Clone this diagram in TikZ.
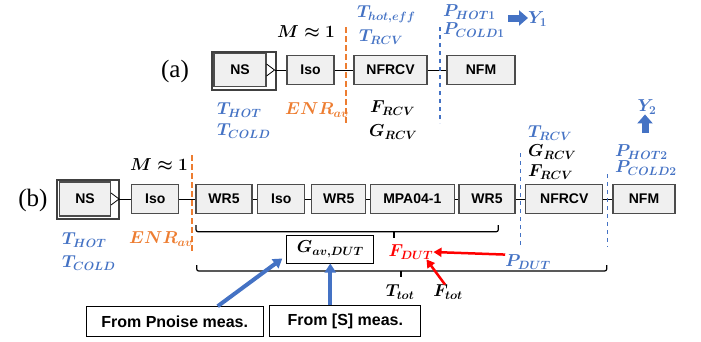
\documentclass[tikz,border=0pt]{standalone}
\usepackage{amsmath}
\usepackage{fontspec}
\setmainfont{Liberation Serif}
\setsansfont{Liberation Sans}
\usepackage{xcolor}
\usepackage{tikz}
\usetikzlibrary{calc,positioning,arrows.meta}
\DeclareMathSizes{16}{16}{12}{10}
\definecolor{tblue}{HTML}{4472C4}
\definecolor{torange}{HTML}{ED7D31}
\tikzset{
  >=Stealth,
  blk/.style={
    rectangle,
    draw=black!70, line width=1.1pt,
    fill=black!6,
    minimum width=#1,
    minimum height=29pt,
    inner sep=0pt,
    font=\sffamily\bfseries\fontsize{14}{16}\selectfont},
  outbox/.style={draw=black!75, line width=1.1pt, inner sep=0pt},
  wire/.style={draw, line width=0.9pt},
  odash/.style={draw=torange, line width=2pt, dash pattern=on 6pt off 3pt},
  bdash/.style={draw=tblue, line width=1.5pt, dash pattern=on 4pt off 4pt},
  mlbl/.style={inner sep=0pt, font=\fontsize{16}{18}\selectfont\boldmath},
  panel/.style={inner sep=0pt, font=\rmfamily\fontsize{25}{28}\selectfont},
  txtbox/.style={draw, line width=1pt, fill=white, inner sep=0pt,
    font=\sffamily\bfseries\fontsize{16}{18}\selectfont},
  brc/.style={draw, line width=1.2pt, rounded corners=2pt},
  barrow/.style={draw=tblue, line width=7pt, -{Triangle[length=9pt,width=15pt]}},
  sarrow/.style={draw=tblue, line width=4pt, -{Triangle[length=9pt,width=11pt]}},
  rarrow/.style={draw=red, line width=2.5pt, -{Triangle[length=8pt,width=9pt]}}
}

\begin{document}
\begin{tikzpicture}[x=1pt,y=-1pt]
    \useasboundingbox (0,0) rectangle (701,341);

    %%% (a)
    \node[panel] (lblA) at (175,71) {(a)};
    \node[blk=52pt, minimum height=33pt] (nsA) at (240,70) {NS};
    \node[outbox, minimum width=64pt, minimum height=38pt] (nsAo) at (244,71) {};
    \draw[line width=0.8pt] (nsA.east) ++(0,-6) -- ++(8,6) coordinate (tipA) -- ++(-8,6);
    \node[blk=47pt] (isoA) at (310.5,70) {Iso};
    \node[blk=73pt] (nfrcvA) at (390.5,70) {NFRCV};
    \node[blk=68pt] (nfmA) at (481,70) {NFM};

    \draw[wire] (tipA) -- (isoA);
    \draw[wire] (isoA) -- (nfrcvA);
    \draw[wire] (nfrcvA) -- (nfmA);

    \coordinate (OA1) at (345.5,27);
    \coordinate (OA2) at (345.5,123);
    \coordinate (BA1) at (440,27);
    \coordinate (BA2) at (440,123);
    \draw[odash] (OA1) -- (OA2);
    \draw[bdash] (BA1) -- (BA2);

    \node[mlbl] (mA) at (306,32) {$M\approx 1$};
    \node[mlbl, tblue, anchor=west] (thA) at (357,14) {$T_{hot,eff}$};
    \node[mlbl, tblue, anchor=west] (trA) at (359,37) {$T_{RCV}$};
    \node[mlbl, tblue, anchor=west] (phA) at (443,12) {$P_{HOT1}$};
    \node[mlbl, tblue, anchor=west] (pcA) at (443,30) {$P_{COLD1}$};
    \node[mlbl, tblue, anchor=west] (yA) at (528,19) {$Y_1$};
    \coordinate (yAs) at (508,18);
    \draw[barrow] (yAs) -- (yAs -| yA.west);

    \node[mlbl, tblue, anchor=west] (thotA) at (217,110) {$T_{HOT}$};
    \node[mlbl, tblue, anchor=west] (tcoldA) at (217,131) {$T_{COLD}$};
    \node[mlbl, torange, anchor=west] (enrA) at (285,110) {$ENR_{av}$};
    \node[mlbl, anchor=west] (frA) at (370,108) {$F_{RCV}$};
    \node[mlbl, anchor=west] (grA) at (369,132) {$G_{RCV}$};

    %%% (b)
    \node[panel] (lblB) at (33,200) {(b)};
    \node[blk=51pt, minimum height=34pt] (nsB) at (85,199) {NS};
    \node[outbox, minimum width=62pt, minimum height=39pt] (nsBo) at (88,199.5) {};
    \draw[line width=0.8pt] (nsB.east) ++(0,-6) -- ++(8,6) coordinate (tipB) -- ++(-8,6);
    \node[blk=47pt] (isoB1) at (155.3,199) {Iso};
    \node[blk=56pt] (wrA) at (224,199) {WR5};
    \node[blk=47pt] (isoB2) at (281.3,199) {Iso};
    \node[blk=54pt] (wrB) at (338.8,199) {WR5};
    \node[blk=84pt] (mpa) at (412.3,199) {MPA04-1};
    \node[blk=56pt] (wrC) at (487,199) {WR5};
    \node[blk=77pt] (nfrcvB) at (564.3,199) {NFRCV};
    \node[blk=62pt] (nfmB) at (644,199) {NFM};

    \draw[wire] (tipB) -- (isoB1);
    \foreach \a/\b in {isoB1/wrA, wrA/isoB2, isoB2/wrB, wrB/mpa, mpa/wrC, wrC/nfrcvB, nfrcvB/nfmB}
        \draw[wire] (\a) -- (\b);

    \coordinate (OB1) at (191.7,155);
    \coordinate (OB2) at (191.7,252);
    \coordinate (BB1) at (520.7,153);
    \coordinate (BB2) at (520.7,248);
    \coordinate (BB3) at (607.3,174);
    \coordinate (BB4) at (607.3,247);
    \draw[odash] (OB1) -- (OB2);
    \draw[bdash] (BB1) -- (BB2);
    \draw[bdash] (BB3) -- (BB4);

    \node[mlbl] (mB) at (159,165) {$M\approx 1$};
    \node[mlbl, tblue, anchor=west] (thotB) at (62,240) {$T_{HOT}$};
    \node[mlbl, tblue, anchor=west] (tcoldB) at (62,263) {$T_{COLD}$};
    \node[mlbl, torange, anchor=west] (enrB) at (129,239) {$ENR_{av}$};
    \node[mlbl, tblue, anchor=west] (trB) at (528,133) {$T_{RCV}$};
    \node[mlbl, anchor=west] (grB) at (528,152) {$G_{RCV}$};
    \node[mlbl, anchor=west] (frB) at (528,172) {$F_{RCV}$};
    \node[mlbl, tblue, anchor=west] (phB) at (615,152) {$P_{HOT2}$};
    \node[mlbl, tblue, anchor=west] (pcB) at (615,168) {$P_{COLD2}$};
    \node[mlbl, tblue] (yB) at (647,107) {$Y_2$};
    \coordinate (yBs) at (645,133);
    \draw[barrow] (yBs) -- (yBs |- yB.south);

    % braces
    \coordinate (C1) at (196,225);
    \coordinate (C2) at (196,231.7);
    \coordinate (C3) at (498.3,231.7);
    \coordinate (C4) at (498.3,225);
    \draw[brc] (C1) -- (C2) -- (C3) -- (C4);
    \draw[brc] (394,231.7) -- (394,238);

    \coordinate (D1) at (196.7,265);
    \coordinate (D2) at (196.7,271);
    \coordinate (D3) at (606.7,271);
    \coordinate (D4) at (606.7,265);
    \draw[brc] (D1) -- (D2) -- (D3) -- (D4);
    \draw[brc] (401,271) -- (401,277);

    \node[txtbox, mlbl, font=\fontsize{17}{19}\selectfont\boldmath, minimum width=87pt, minimum height=28pt] (gav) at (330.3,249) {$G_{av,DUT}$};
    \node[mlbl, red] (fdut) at (411,252) {$F_{DUT}$};
    \node[mlbl, tblue] (pdut) at (528,262) {$P_{DUT}$};
    \node[mlbl] (ttot) at (400,292) {$T_{tot}$};
    \node[mlbl] (ftot) at (448,292) {$F_{tot}$};

    \node[txtbox, minimum width=177pt, minimum height=30pt] (pn) at (174.7,321.7) {From Pnoise meas.};
    \node[txtbox, minimum width=151pt, minimum height=31pt] (sm) at (345.3,321.4) {From [S] meas.};

    \draw[sarrow] ($(pn.north)+(43,0)$) -- ($(gav.south west)+(-4,-5)$);
    \draw[sarrow] (sm.north -| gav.south) -- (gav.south);
    \draw[rarrow] (pdut.north west) -- (fdut.east);
    \draw[rarrow] ([xshift=-3pt]ftot.north) -- ([xshift=-7pt]fdut.south east);
\end{tikzpicture}
\end{document}
